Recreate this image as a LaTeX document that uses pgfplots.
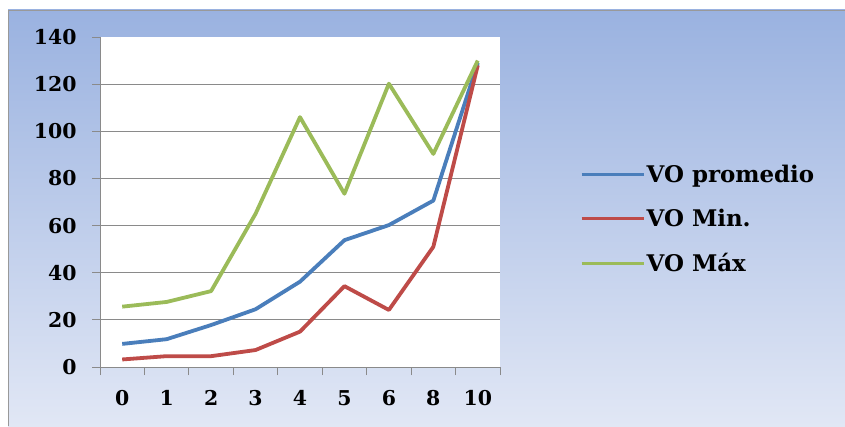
\documentclass[border=0pt]{standalone}
\usepackage{fontspec}
\setmainfont{DejaVu Serif}
\usepackage{pgfplots}
\pgfplotsset{compat=1.18}

\definecolor{seriesblue}{HTML}{4A7EBB}
\definecolor{seriesred}{HTML}{BE4B48}
\definecolor{seriesgreen}{HTML}{9BBB59}
\definecolor{frametop}{HTML}{9AB2E0}
\definecolor{framebottom}{HTML}{E1E7F5}
\definecolor{gridgray}{HTML}{8A8A8A}

% Categories sit at 0.5, 1.5, ... so that tick marks fall between them
\pgfplotstableread{
x   prom  vmin  vmax
0.5  9.8   3.2  25.6
1.5 11.8   4.6  27.6
2.5 17.8   4.6  32.2
3.5 24.5   7.2  65.0
4.5 36.2  15.0 106.0
5.5 53.8  34.3  73.5
6.5 60.2  24.2 120.2
7.5 70.6  51.0  90.4
8.5 129.0 128.0 130.0
}\datatable

\begin{document}
\begin{tikzpicture}[x=1bp,y=1bp]
  \path[use as bounding box, fill=white] (0,0) rectangle (845,426);
  \shade[top color=frametop, bottom color=framebottom] (8,0) rectangle (845,416);
  \draw[gray!80, line width=0.8bp] (8,0) -- (8,416) -- (845,416);

  \begin{axis}[
    at={(100bp,59bp)}, anchor=south west,
    scale only axis, width=400bp, height=330bp,
    xmin=0, xmax=9, ymin=0, ymax=140,
    axis x line*=bottom, axis y line*=left,
    axis line style={gridgray, line width=0.8bp},
    axis background/.style={fill=white},
    tick align=outside,
    major tick length=8bp,
    tick style={gridgray, line width=0.8bp},
    xtick={0,...,9}, xticklabels={},
    extra x ticks={0.5,1.5,...,8.5},
    extra x tick labels={0,1,2,3,4,5,6,8,10},
    extra x tick style={major tick length=0pt, grid=none,
      xticklabel style={yshift=-20bp}},
    ytick={0,20,...,120},
    extra y ticks={140},
    extra y tick style={grid=none},
    ymajorgrids,
    grid style={gridgray, line width=0.8bp},
    /pgf/number format/assume math mode=true,
    ticklabel style={font=\fontsize{20.5}{24}\selectfont\bfseries, text=black},
    yticklabel style={xshift=-12bp},
    legend style={at={(axis description cs:1.2,0.448)}, anchor=west,
      draw=none, fill=none, inner sep=0pt,
      font=\fontsize{23}{26}\selectfont\bfseries,
      row sep=22bp,
      nodes={inner sep=1.5bp}},
    legend cell align=left,
    legend image code/.code={\draw[#1, line width=3bp] (0,0) -- (62bp,0);},
    every axis plot/.append style={line width=3.8bp, line join=round, no markers},
  ]
    \addplot[seriesblue] table[x=x, y=prom] {\datatable};
    \addplot[seriesred] table[x=x, y=vmin] {\datatable};
    \addplot[seriesgreen] table[x=x, y=vmax] {\datatable};
    \legend{VO promedio, VO Min., VO Máx}
  \end{axis}
\end{tikzpicture}
\end{document}
